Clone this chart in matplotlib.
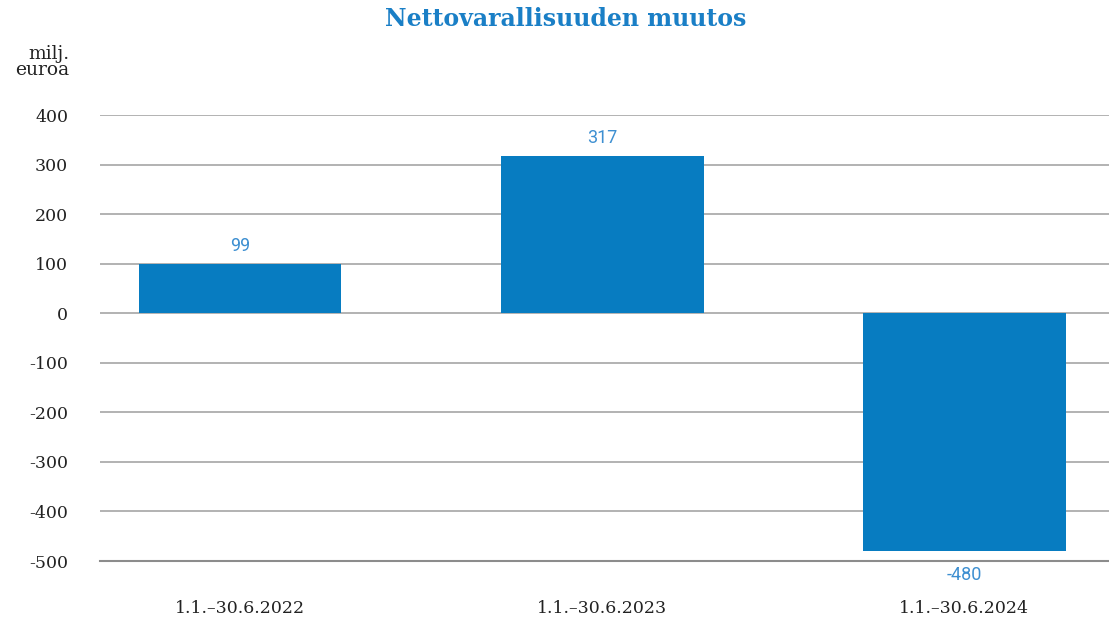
import matplotlib.pyplot as plt

categories = ["1.1.\u201330.6.2022", "1.1.\u201330.6.2023", "1.1.\u201330.6.2024"]
values = [99, 317, -480]
yticks = [400, 300, 200, 100, 0, -100, -200, -300, -400, -500]

fig = plt.figure(figsize=(11.09, 6.18), dpi=100)
ax = fig.add_axes([100 / 1109, 1 - 561 / 618, 1 - 100 / 1109, (561 - 115) / 618])

x = list(range(len(categories)))
ax.bar(x, values, width=0.56, color="#077cc1", zorder=3)

for xi, v in zip(x, values):
    if v >= 0:
        ax.text(xi, v + 19, str(v), ha="center", va="bottom", fontsize=13,
                color="#3d8fd1", family="Roboto")
    else:
        ax.text(xi, v - 30, str(v), ha="center", va="top", fontsize=13,
                color="#3d8fd1", family="Roboto", zorder=5)

ax.set_xlim(-0.387, 2.40)
ax.set_ylim(-500, 400)
ax.set_yticks(yticks)
ax.set_yticklabels([str(t) for t in yticks], family="DejaVu Serif", fontsize=12.5, color="#222222")
ax.set_xticks(x)
ax.set_xticklabels(categories, family="DejaVu Serif", fontsize=12.5, color="#222222")
ax.tick_params(axis="y", length=0, pad=23)
ax.tick_params(axis="x", length=0, pad=28)
ax.grid(axis="y", color="#a6a6a6", linewidth=1.2, zorder=0)
for s in ["top", "right", "left"]:
    ax.spines[s].set_visible(False)
ax.spines["bottom"].set_color("#8c8c8c")
ax.spines["bottom"].set_linewidth(1.5)

fig.text(69 / 1109, 1 - 62 / 618, "milj.\neuroa", ha="right", va="center", fontsize=13.5,
         family="DejaVu Serif", color="#222222", linespacing=0.8)
fig.text(566 / 1109, 1 - 19 / 618, "Nettovarallisuuden muutos", ha="center", va="center",
         fontsize=17, fontweight="bold", family="DejaVu Serif", color="#1a7fc6")

fig.savefig("out.png", dpi=100)
